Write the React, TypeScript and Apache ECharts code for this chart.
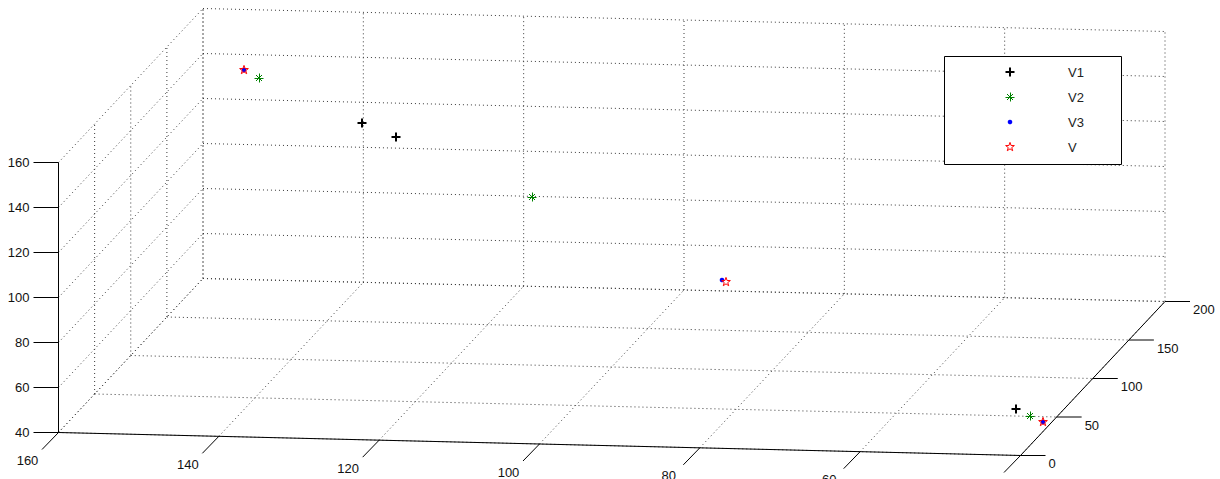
import React, { useEffect, useRef } from "react";
import * as echarts from "echarts";

// ---- Axis ticks (data units) ----
const xTicks = [160, 140, 120, 100, 80, 60, 40];
const yTicks = [0, 50, 100, 150, 200];
const zTicks = [40, 60, 80, 100, 120, 140, 160];

// ---- Series data: [x, y, z] ----
const seriesNames = ["V1", "V2", "V3", "V"];
const v1Data = [
  [135.6, 150, 128.4],
  [131.4, 150, 122.3],
  [44.2, 40, 46.6],
];
const v2Data = [
  [151.2, 180, 136.8],
  [111.7, 120, 107.6],
  [42.4, 40, 43.5],
];
const v3Data = [
  [153.1, 180, 139.9],
  [86.3, 100, 79.9],
  [40.8, 40, 41.3],
];
const vData = [
  [153.1, 180, 139.9],
  [85.8, 100, 79.2],
  [40.8, 40, 41.3],
];

const X_MIN = Math.min(...xTicks);
const X_MAX = Math.max(...xTicks);
const Y_MIN = Math.min(...yTicks);
const Y_MAX = Math.max(...yTicks);
const Z_MIN = Math.min(...zTicks);
const Z_MAX = Math.max(...zTicks);

// ---- View (orthographic projection into the 2D pixel-valued grid) ----
const VIEW = {
  ox: 58.5,
  oy: 432.5,
  xVec: [962, 23], // full x range (x reversed: max at left)
  yVec: [144.5, -154], // full y range (depth)
  zLen: 270, // full z range
};

function proj(x: number, y: number, z: number): number[] {
  const tx = (X_MAX - x) / (X_MAX - X_MIN);
  const ty = (y - Y_MIN) / (Y_MAX - Y_MIN);
  const tz = (z - Z_MIN) / (Z_MAX - Z_MIN);
  return [
    VIEW.ox + tx * VIEW.xVec[0] + ty * VIEW.yVec[0],
    VIEW.oy + tx * VIEW.xVec[1] + ty * VIEW.yVec[1] - tz * VIEW.zLen,
  ];
}

const FONT = '13px "Liberation Sans", Arial, Helvetica, sans-serif';
const TEXT_COLOR = "#111";
const GRID_COLOR = "#3a3a3a";

type Kind = "plus" | "asterisk" | "dot" | "pentagram";
const kinds: Kind[] = ["plus", "asterisk", "dot", "pentagram"];
const colors = ["#000000", "#008000", "#0000ff", "#ff0000"];

function marker(kind: Kind, cx: number, cy: number, color: string, z?: number): any[] {
  const zz = z === undefined ? {} : { z };
  const ln = (x1: number, y1: number, x2: number, y2: number, w: number) => ({
    type: "line",
    ...zz,
    shape: { x1, y1, x2, y2 },
    style: { stroke: color, lineWidth: w },
  });
  if (kind === "plus") {
    const h = 4.5;
    return [ln(cx - h, cy, cx + h, cy, 2), ln(cx, cy - h, cx, cy + h, 2)];
  }
  if (kind === "asterisk") {
    const h = 4.5;
    const d = 3;
    return [
      ln(cx - h, cy + 0.5, cx + h, cy + 0.5, 1),
      ln(cx + 0.5, cy - h, cx + 0.5, cy + h, 1),
      ln(cx - d, cy - d, cx + d, cy + d, 1),
      ln(cx - d, cy + d, cx + d, cy - d, 1),
    ];
  }
  if (kind === "dot") {
    return [
      {
        type: "circle",
        ...zz,
        shape: { cx, cy, r: 2.3 },
        style: { fill: color, stroke: "none" },
      },
    ];
  }
  const R = 4.6;
  const r = R * 0.4;
  const pts: number[][] = [];
  for (let i = 0; i < 10; i++) {
    const a = -Math.PI / 2 + (i * Math.PI) / 5;
    const rr = i % 2 === 0 ? R : r;
    pts.push([cx + rr * Math.cos(a), cy + rr * Math.sin(a)]);
  }
  return [
    {
      type: "polygon",
      ...zz,
      shape: { points: pts },
      style: { fill: "none", stroke: color, lineWidth: 1 },
    },
  ];
}

// ---- Grid segments on the three back planes ----
const gridSegs: number[][] = [];
// floor (z = Z_MIN)
xTicks.forEach((x) => gridSegs.push([x, Y_MIN, Z_MIN, x, Y_MAX, Z_MIN]));
yTicks.forEach((y) => gridSegs.push([X_MAX, y, Z_MIN, X_MIN, y, Z_MIN]));
// back wall (y = Y_MAX)
xTicks.forEach((x) => gridSegs.push([x, Y_MAX, Z_MIN, x, Y_MAX, Z_MAX]));
zTicks.forEach((z) => gridSegs.push([X_MAX, Y_MAX, z, X_MIN, Y_MAX, z]));
// left wall (x = X_MAX)
yTicks.forEach((y) => gridSegs.push([X_MAX, y, Z_MIN, X_MAX, y, Z_MAX]));
zTicks.forEach((z) => gridSegs.push([X_MAX, Y_MIN, z, X_MAX, Y_MAX, z]));

const axisSegs: number[][] = [
  [X_MAX, Y_MIN, Z_MIN, X_MAX, Y_MIN, Z_MAX],
  [X_MAX, Y_MIN, Z_MIN, X_MIN, Y_MIN, Z_MIN],
  [X_MIN, Y_MIN, Z_MIN, X_MIN, Y_MAX, Z_MIN],
];

function segSeries(data: number[][], style: any, z: number) {
  return {
    type: "custom",
    coordinateSystem: "cartesian2d",
    silent: true,
    z,
    encode: { x: 0, y: 1 },
    data,
    renderItem: (_p: any, api: any) => {
      const a = api.coord(proj(api.value(0), api.value(1), api.value(2)));
      const b = api.coord(proj(api.value(3), api.value(4), api.value(5)));
      return {
        type: "line",
        shape: { x1: a[0], y1: a[1], x2: b[0], y2: b[1] },
        style,
      };
    },
  };
}

function tickSeries(
  ticks: number[],
  at: (v: number) => number[],
  tickVec: number[],
  labelOff: number[],
  align: string
) {
  return {
    type: "custom",
    coordinateSystem: "cartesian2d",
    silent: true,
    z: 3,
    encode: { x: 0, y: 0 },
    data: ticks.map((v) => [v]),
    renderItem: (_p: any, api: any) => {
      const v = api.value(0);
      const p = at(v);
      const c = api.coord(p);
      return {
        type: "group",
        children: [
          {
            type: "line",
            shape: { x1: c[0], y1: c[1], x2: c[0] + tickVec[0], y2: c[1] + tickVec[1] },
            style: { stroke: "#000", lineWidth: 1 },
          },
          {
            type: "text",
            x: c[0] + labelOff[0],
            y: c[1] + labelOff[1],
            style: {
              text: String(v),
              fill: TEXT_COLOR,
              font: FONT,
              align,
              verticalAlign: "middle",
            },
          },
        ],
      };
    },
  };
}

function scatterSeries(name: string, data: number[][], kind: Kind, color: string, z: number) {
  return {
    type: "custom",
    name,
    coordinateSystem: "cartesian2d",
    silent: true,
    z,
    encode: { x: 0, y: 1 },
    data,
    renderItem: (_p: any, api: any) => {
      const c = api.coord(proj(api.value(0), api.value(1), api.value(2)));
      return { type: "group", children: marker(kind, Math.round(c[0]), Math.round(c[1]), color) };
    },
  };
}

const allData = [v1Data, v2Data, v3Data, vData];

// ---- Legend (drawn as graphic) ----
const LEG = { x: 944.5, y: 56.5, w: 177, h: 108, iconX: 1010, textX: 1068, rowY: 72, rowGap: 25 };
const legendChildren: any[] = [
  {
    type: "rect",
    z: 100,
    shape: { x: LEG.x, y: LEG.y, width: LEG.w, height: LEG.h },
    style: { fill: "#ffffff", stroke: "#000", lineWidth: 1 },
  },
];
seriesNames.forEach((n, i) => {
  const cy = LEG.rowY + i * LEG.rowGap;
  legendChildren.push(...marker(kinds[i], LEG.iconX, cy, colors[i], 101));
  legendChildren.push({
    type: "text",
    z: 101,
    x: LEG.textX,
    y: cy,
    style: { text: n, fill: "#222", font: FONT, align: "left", verticalAlign: "middle" },
  });
});

const option: any = {
  animation: false,
  backgroundColor: "#ffffff",
  grid: { left: 0, right: 0, top: 0, bottom: 0, containLabel: false },
  xAxis: { type: "value", min: 0, max: 1220, show: false },
  yAxis: { type: "value", min: 0, max: 479, inverse: true, show: false },
  series: [
    segSeries(gridSegs, { stroke: GRID_COLOR, lineWidth: 1, lineDash: [1, 3] }, 1),
    segSeries(axisSegs, { stroke: "#000", lineWidth: 1 }, 2),
    tickSeries(zTicks, (v) => proj(X_MAX, Y_MIN, v), [-25, 0], [-29, 0], "right"),
    tickSeries(xTicks, (v) => proj(v, Y_MIN, Z_MIN), [-16.5, 17], [-31, 28], "center"),
    tickSeries(yTicks, (v) => proj(X_MIN, v, Z_MIN), [25, 0], [28, 8], "left"),
    ...seriesNames.map((n, i) => scatterSeries(n, allData[i], kinds[i], colors[i], 5 + i)),
  ],
  graphic: { elements: [{ type: "group", z: 100, children: legendChildren }] },
};

export default function App() {
  const ref = useRef<HTMLDivElement>(null);
  useEffect(() => {
    const chart = echarts.init(ref.current as HTMLDivElement, undefined, { renderer: "svg" });
    chart.setOption(option);
    return () => chart.dispose();
  }, []);
  return (
    <div
      ref={ref}
      style={{ position: "fixed", left: 0, top: 0, width: 1220, height: 479, background: "#fff" }}
    />
  );
}
